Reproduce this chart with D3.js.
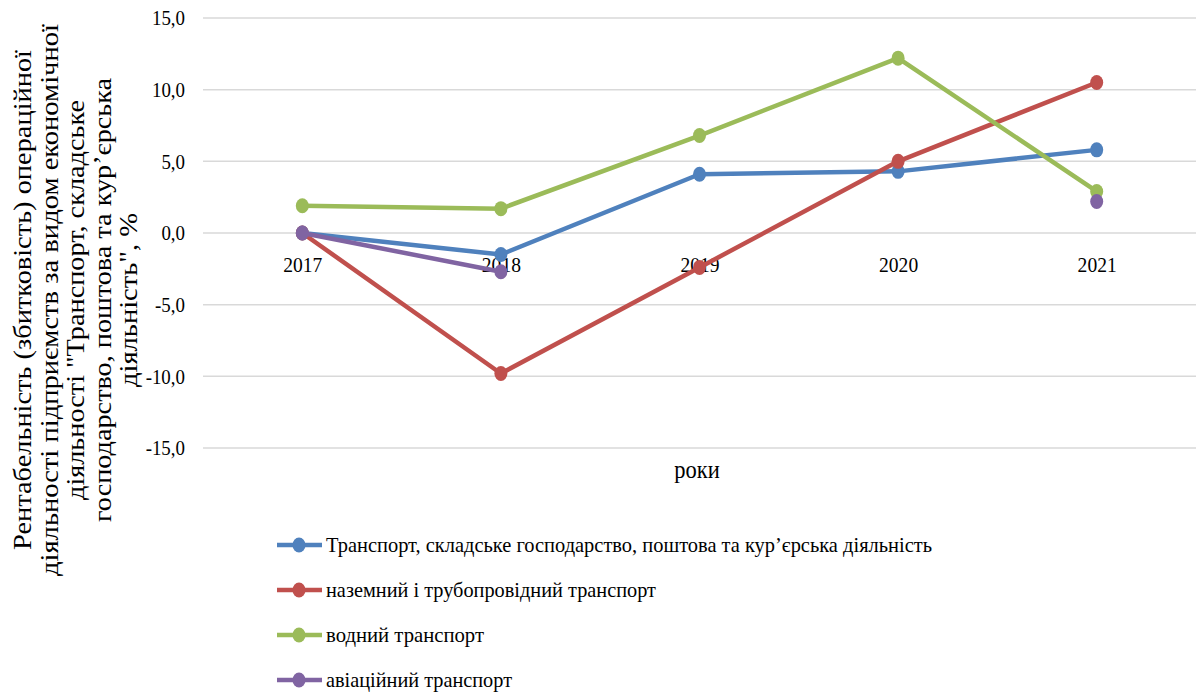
<!DOCTYPE html>
<html><head><meta charset="utf-8">
<script src="https://cdn.jsdelivr.net/npm/d3@7"></script>
<style>body{margin:0;background:#fff}svg{display:block}</style>
</head><body><svg id="c" width="1196" height="693"></svg>
<script>
const years = ["2017","2018","2019","2020","2021"];
const seriesNames = ["Транспорт, складське господарство, поштова та кур’єрська діяльність","наземний і трубопровідний транспорт","водний транспорт","авіаційний  транспорт"];
const transportAll = [0.0, -1.5, 4.1, 4.3, 5.8];
const landPipeline = [0.0, -9.8, -2.4, 5.0, 10.5];
const water = [1.9, 1.7, 6.8, 12.2, 2.9];
const aviation = [0.0, -2.7, null, null, 2.2];
const yTicks = [15, 10, 5, 0, -5, -10, -15];
const colors = ["#4F81BD","#C0504D","#9BBB59","#8064A2"];
const yTitleLines = ["Рентабельність (збитковість) операційної","діяльності підприємств за видом економічної","діяльності \"Транспорт,  складське","господарство, поштова та кур’єрська","діяльність\", %"];

const FONT = "'Liberation Serif', 'Times New Roman', Times, serif";
const svg = d3.select("#c").style("font-family", FONT);
const x = d3.scalePoint().domain(years).range([203,1196]).padding(0.5);
const y = d3.scaleLinear().domain([-15,15]).range([448,18]);

function condense(sel, f){
  sel.each(function(){
    const L = this.getComputedTextLength();
    d3.select(this).attr("textLength", L*f).attr("lengthAdjust","spacingAndGlyphs");
  });
}

svg.append("g").selectAll("line").data(yTicks).join("line")
  .attr("x1",203).attr("x2",1196).attr("y1",d=>y(d)).attr("y2",d=>y(d))
  .attr("stroke","#d9d9d9").attr("stroke-width",1.5);

const yAxis = d3.axisLeft(y).tickValues(yTicks).tickSize(0).tickPadding(0)
  .tickFormat(d=>d3.format(".1f")(d).replace(".",",").replace("−","-"));
const ga = svg.append("g").attr("transform","translate(185,0)").call(yAxis).attr("font-family",null);
ga.select(".domain").remove();
ga.selectAll("text").style("font-family",FONT).attr("font-size",21).attr("fill","#000").attr("dy","0.33em");
condense(ga.selectAll("text"), 0.9);

const xAxis = d3.axisBottom(x).tickSize(0).tickPadding(0);
const gx = svg.append("g").attr("transform",`translate(0,${y(0)+39})`).call(xAxis).attr("font-family",null);
gx.select(".domain").remove();
gx.selectAll("text").style("font-family",FONT).attr("font-size",22).attr("fill","#000").attr("dy","0");
condense(gx.selectAll("text"), 0.89);

const xt = svg.append("text").style("font-family",FONT).attr("x",697).attr("y",478).attr("text-anchor","middle").attr("font-size",25).text("роки");
condense(xt, 0.9);

const titleLens = [500, 552, 400, 444, 174];
yTitleLines.forEach((t,i)=>{
  svg.append("text").style("font-family",FONT)
    .attr("transform",`translate(${31+i*26.5},300) rotate(-90)`)
    .attr("text-anchor","middle").attr("font-size",26)
    .attr("textLength",titleLens[i]).attr("lengthAdjust","spacingAndGlyphs")
    .text(t);
});

const data = [transportAll, landPipeline, water, aviation];
const line = d3.line().defined(d=>d!=null).x((d,i)=>x(years[i])).y(d=>y(d));
data.forEach((vals,k)=>{
  const g = svg.append("g");
  g.append("path").attr("d",line(vals)).attr("fill","none").attr("stroke",colors[k]).attr("stroke-width",4.5).attr("stroke-linejoin","round");
  g.selectAll("ellipse").data(vals.map((v,i)=>({v,i})).filter(d=>d.v!=null)).join("ellipse")
    .attr("cx",d=>x(years[d.i])).attr("cy",d=>y(d.v)).attr("rx",6.5).attr("ry",7.5).attr("fill",colors[k]);
});

const legLens = [606, 330, 158, 186];
const lg = svg.append("g");
seriesNames.forEach((n,k)=>{
  const yy = 545 + k*45;
  lg.append("line").attr("x1",277).attr("x2",322).attr("y1",yy).attr("y2",yy).attr("stroke",colors[k]).attr("stroke-width",4.5);
  lg.append("ellipse").attr("cx",299).attr("cy",yy).attr("rx",6.5).attr("ry",7.5).attr("fill",colors[k]);
  lg.append("text").style("font-family",FONT).attr("x",326).attr("y",yy).attr("dy","0.33em").attr("font-size",22)
    .attr("textLength",legLens[k]).attr("lengthAdjust","spacingAndGlyphs").text(n);
});
</script></body></html>
